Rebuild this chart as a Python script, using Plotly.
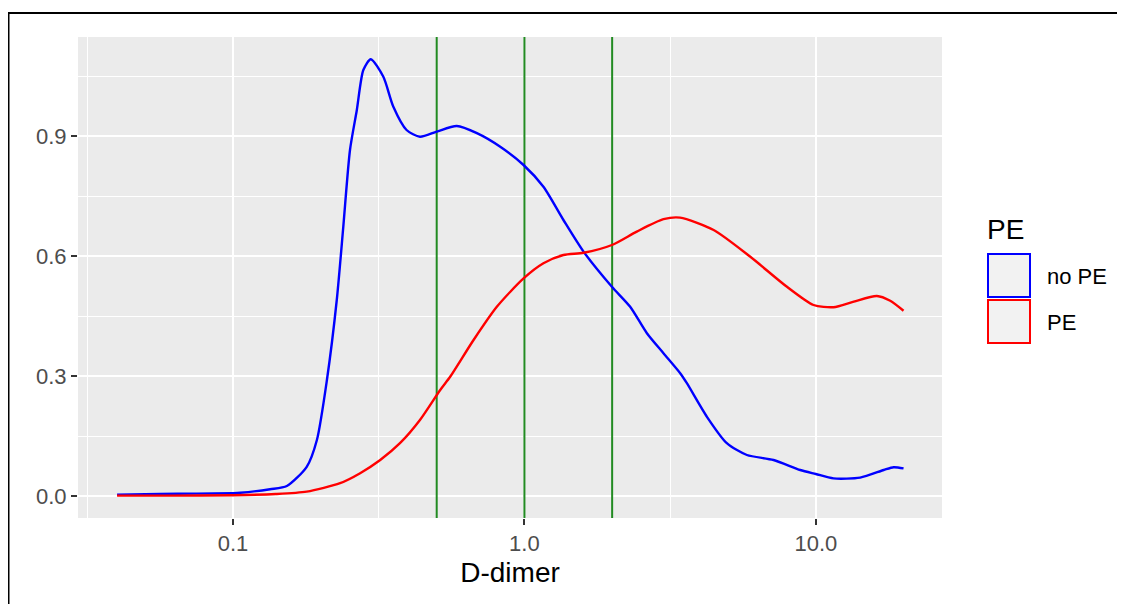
import plotly.graph_objects as go

# ---- data ----
blue_x = [0.040, 0.056, 0.075, 0.100, 0.106, 0.134, 0.153, 0.179, 0.194, 0.210, 0.227,
          0.239, 0.252, 0.266, 0.280, 0.297, 0.328, 0.355, 0.394, 0.438, 0.500,
          0.586, 0.687, 0.826, 0.993, 1.162, 1.361, 1.595, 1.996, 2.306, 2.632,
          3.000, 3.424, 3.61, 4.23, 4.95, 5.80, 7.16, 8.84, 10.0, 11.5, 14.2,
          17.1, 18.5, 20.0]
blue_y = [0.003, 0.005, 0.006, 0.007, 0.008, 0.017, 0.025, 0.073, 0.14, 0.29, 0.49,
          0.673, 0.865, 0.965, 1.065, 1.092, 1.048, 0.973, 0.915, 0.898, 0.911,
          0.925, 0.907, 0.873, 0.8275, 0.773, 0.69, 0.611, 0.523, 0.473, 0.407,
          0.357, 0.307, 0.282, 0.198, 0.132, 0.1025, 0.09, 0.065, 0.055, 0.044, 0.046,
          0.065, 0.072, 0.069]

red_x = [0.040, 0.060, 0.100, 0.140, 0.179, 0.233, 0.273, 0.320, 0.374, 0.438,
         0.514, 0.556, 0.669, 0.804, 0.993, 1.162, 1.361, 1.595, 1.996, 2.43,
         3.00, 3.42, 4.46, 5.96, 7.96, 9.82, 11.5, 13.5, 16.2, 18.0, 20.0]
red_y = [0.001, 0.001, 0.002, 0.005, 0.011, 0.032, 0.057, 0.09, 0.132, 0.19,
         0.265, 0.298, 0.39, 0.473, 0.544, 0.582, 0.6025, 0.608, 0.6275, 0.661,
         0.692, 0.696, 0.665, 0.598, 0.523, 0.4775, 0.472, 0.486, 0.50, 0.488, 0.463]

cutoffs = [0.5, 1.0, 2.0]

x_tickvals = [0.1, 1.0, 10.0]
x_ticktext = ["0.1", "1.0", "10.0"]
x_minor = [10 ** -1.5, 10 ** -0.5, 10 ** 0.5]
y_tickvals = [0.0, 0.3, 0.6, 0.9]
y_ticktext = ["0.0", "0.3", "0.6", "0.9"]

legend_labels = ["no PE", "PE"]
legend_colors = ["#0000FF", "#FF0000"]

# ---- layout constants ----
OFF = 8  # page body margin
W, H = 1125 - OFF, 604 - OFF
ML, MT = 78 - OFF, 37 - OFF
PW, PH = 864, 481
MR = W - ML - PW
MB = H - MT - PH
YR = [-0.055, 1.1475]
XR = [-1.532, 1.433]


def px(xp):  # page pixel x -> paper
    return (xp - OFF - ML) / PW


def py(yp):  # page pixel y -> paper
    return (MT + PH - (yp - OFF)) / PH


FONT = "Liberation Sans, Arial, sans-serif"

fig = go.Figure()

for xv in cutoffs:
    fig.add_trace(go.Scatter(x=[xv, xv], y=YR, mode="lines",
                             line=dict(color="#228B22", width=2),
                             showlegend=False, hoverinfo="skip"))

fig.add_trace(go.Scatter(x=blue_x, y=blue_y, mode="lines", name="no PE",
                         line=dict(color="#0000FF", width=2.4, shape="spline", smoothing=0.7),
                         showlegend=False))
fig.add_trace(go.Scatter(x=red_x, y=red_y, mode="lines", name="PE",
                         line=dict(color="#FF0000", width=2.4, shape="spline", smoothing=0.7),
                         showlegend=False))

shapes = []
annotations = []

# frame lines (top and left)
shapes.append(dict(type="line", xref="paper", yref="paper",
                   x0=px(7.5), x1=px(1130), y0=py(13), y1=py(13),
                   line=dict(color="black", width=2), layer="above"))
shapes.append(dict(type="line", xref="paper", yref="paper",
                   x0=px(8.5), x1=px(8.5), y0=py(12), y1=py(610),
                   line=dict(color="black", width=2), layer="above"))

# manual legend
annotations.append(dict(xref="paper", yref="paper", x=px(985), y=py(229),
                        xanchor="left", yanchor="middle", showarrow=False,
                        text="PE", font=dict(family=FONT, size=28, color="black")))
key_tops = [253, 299]
for lab, col, top in zip(legend_labels, legend_colors, key_tops):
    shapes.append(dict(type="rect", xref="paper", yref="paper",
                       x0=px(988), x1=px(1030), y0=py(top + 1), y1=py(top + 44),
                       fillcolor="#F2F2F2", line=dict(color=col, width=2)))
    annotations.append(dict(xref="paper", yref="paper", x=px(1045), y=py(top + 23),
                            xanchor="left", yanchor="middle", showarrow=False,
                            text=lab, font=dict(family=FONT, size=22, color="black")))

fig.update_layout(
    width=W, height=H,
    margin=dict(l=ML, r=MR, t=MT, b=MB, pad=0),
    paper_bgcolor="white",
    plot_bgcolor="#EBEBEB",
    font=dict(family=FONT),
    showlegend=False,
    shapes=shapes,
    annotations=annotations,
    xaxis=dict(
        type="log", range=XR,
        tickmode="array", tickvals=x_tickvals, ticktext=x_ticktext,
        showgrid=True, gridcolor="white", gridwidth=1.8,
        minor=dict(tickmode="array", tickvals=x_minor, showgrid=True,
                   gridcolor="white", gridwidth=0.9, ticks=""),
        zeroline=False, showline=False,
        ticks="outside", ticklen=6, tickwidth=1.5, tickcolor="#333333",
        tickfont=dict(family=FONT, size=22, color="#4D4D4D"),
        title=dict(text="D-dimer", font=dict(family=FONT, size=28, color="black"),
                   standoff=6),
    ),
    yaxis=dict(
        range=YR,
        tickmode="array", tickvals=y_tickvals, ticktext=y_ticktext,
        showgrid=True, gridcolor="white", gridwidth=1.8,
        minor=dict(dtick=0.15, tick0=0, showgrid=True, gridcolor="white",
                   gridwidth=0.9, ticks=""),
        zeroline=False, showline=False,
        ticks="outside", ticklen=6, tickwidth=1.5, tickcolor="#333333",
        tickfont=dict(family=FONT, size=22, color="#4D4D4D"),
    ),
)

fig.write_html("out.html")
